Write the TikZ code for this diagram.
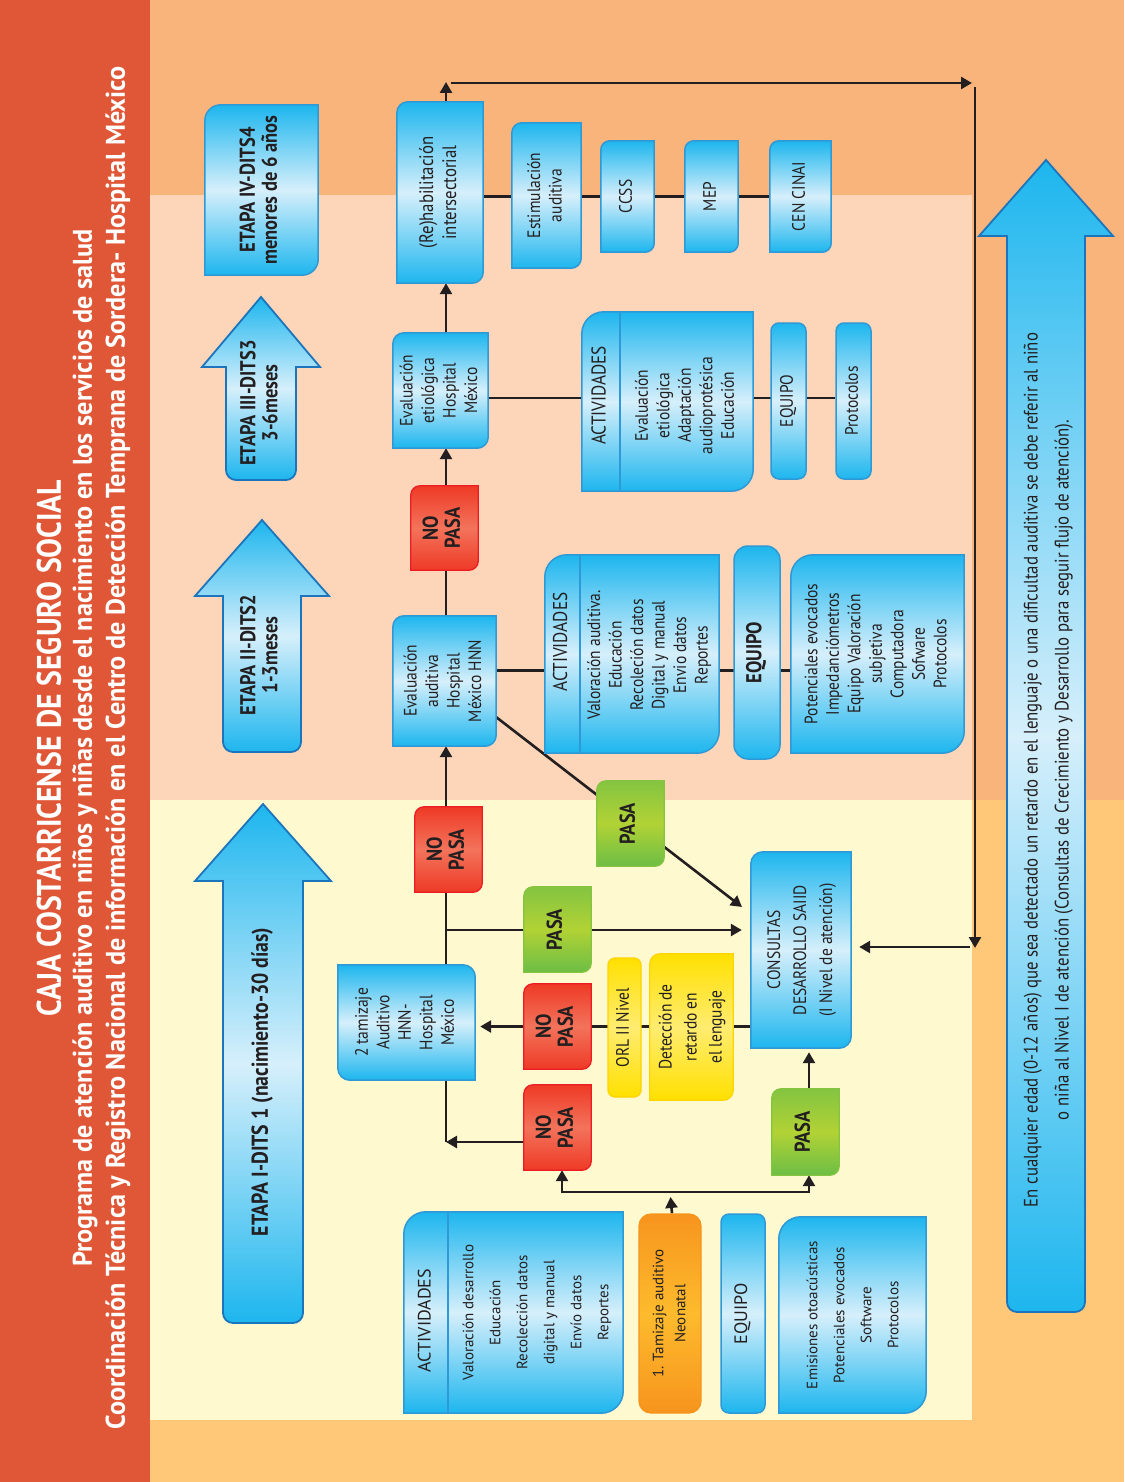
\documentclass[tikz,border=0pt]{standalone}
\usepackage{graphicx}
\usepackage{fontspec}
\setmainfont{PT Sans}[FakeStretch=0.86]
\newfontfamily\widefont{PT Sans}
\newfontfamily\headfont{PT Sans}[FakeStretch=0.875]
\newfontfamily\subfont{PT Sans}[FakeStretch=0.97]
\usetikzlibrary{arrows.meta,calc,positioning}

\definecolor{ink}{HTML}{231F20}
\definecolor{redbg}{HTML}{DF5737}
\definecolor{orangebg}{HTML}{F9B47B}
\definecolor{peachbg}{HTML}{FDD5B9}
\definecolor{ambbg}{HTML}{FFC879}
\definecolor{creambg}{HTML}{FFF9CF}
\definecolor{bluetop}{HTML}{1DB6EE}
\definecolor{bluemid}{HTML}{D6EFFB}
\definecolor{blueline}{HTML}{2E99D6}
\definecolor{bluedark}{HTML}{1C75BC}
\definecolor{redtop}{HTML}{EE3A26}
\definecolor{redmid}{HTML}{F3735B}
\definecolor{redline}{HTML}{ED1C24}
\definecolor{greentop}{HTML}{84C441}
\definecolor{greenmid}{HTML}{B2D235}
\definecolor{greenbot}{HTML}{6CBE45}
\definecolor{yelltop}{HTML}{FFE000}
\definecolor{yellmid}{HTML}{FFEC70}
\definecolor{yellline}{HTML}{FFD400}
\definecolor{orgtop}{HTML}{F7941D}
\definecolor{orgmid}{HTML}{FDBB2D}

\pgfdeclarelayer{bg}
\pgfdeclarelayer{lines}
\pgfdeclarelayer{frames}
\pgfsetlayers{bg,lines,frames,main}

\newcommand{\rt}[1]{\rotatebox{90}{\begin{tabular}{@{}c@{}}#1\end{tabular}}}
% frame with top left and bottom right corners rounded
\newcommand{\frameTB}[3]{%
  \begin{pgfonlayer}{frames}
  \path[#3] ($(#1.north west)+(0,#2)$) arc[start angle=180,end angle=90,radius=#2pt]
    -- (#1.north east) -- ($(#1.south east)+(0,-#2)$) arc[start angle=0,end angle=-90,radius=#2pt]
    -- (#1.south west) -- cycle;
  \end{pgfonlayer}}
% frame with top right and bottom left corners rounded
\newcommand{\frameRL}[3]{%
  \begin{pgfonlayer}{frames}
  \path[#3] (#1.north west) -- ($(#1.north east)+(-#2,0)$) arc[start angle=90,end angle=0,radius=#2pt]
    -- (#1.south east) -- ($(#1.south west)+(#2,0)$) arc[start angle=-90,end angle=-180,radius=#2pt]
    -- cycle;
  \end{pgfonlayer}}
\newcommand{\divider}[2]{%
  \begin{pgfonlayer}{frames}
  \draw[blueline,line width=1.5pt] ($(#1.north west)+(#2,0)$) -- ($(#1.south west)+(#2,0)$);
  \end{pgfonlayer}}
% cx, tip, base of head, half head, half shaft, bottom
\newcommand{\blockarrow}[6]{%
  \begin{pgfonlayer}{frames}
  \path[arrowfill] (#1,#2) -- (#1+#4,#3) -- (#1+#5,#3) -- (#1+#5,#6-10)
    arc[start angle=0,end angle=-90,radius=10pt] -- (#1-#5+10,#6)
    arc[start angle=-90,end angle=-180,radius=10pt] -- (#1-#5,#3) -- (#1-#4,#3) -- cycle;
  \end{pgfonlayer}}

\tikzset{
  box/.style={inner sep=0pt, text=ink, font=\fontsize{18}{21.5}\selectfont},
  bold/.style={box, font=\bfseries\fontsize{21.5}{22}\selectfont},
  wide/.style={box, font=\widefont\fontsize{15}{27}\selectfont},
  title/.style={inner sep=0pt, text=white},
  bluebox/.style={draw=blueline, line width=1.5pt, top color=bluetop, bottom color=bluetop, middle color=bluemid},
  redbox/.style={draw=redline, line width=1.3pt, top color=redtop, bottom color=redtop, middle color=redmid},
  greenbox/.style={draw=greentop, line width=1.3pt, top color=greentop, bottom color=greenbot, middle color=greenmid},
  yellbox/.style={draw=yellline, line width=1.3pt, top color=yelltop, bottom color=yelltop, middle color=yellmid},
  arrowfill/.style={draw=bluedark, line width=1.8pt, top color=bluetop, bottom color=bluetop, middle color=bluemid},
  pill/.style={bluebox, rounded corners=8pt},
  conn/.style={draw=ink, line width=2.6pt},
  arr/.style={conn, -{Triangle[length=11pt,width=12pt]}},
}

\begin{document}
\begin{tikzpicture}[x=1pt,y=-1pt]
  \useasboundingbox (0,0) rectangle (1124,1482);

  % background bands
  \begin{pgfonlayer}{bg}
    \fill[redbg] (0,0) rectangle (150,1482);
    \fill[orangebg] (150,0) rectangle (1124,800);
    \fill[peachbg] (150,195) rectangle (972,800);
    \fill[ambbg] (150,800) rectangle (1124,1482);
    \fill[creambg] (150,800) rectangle (972,1420);
  \end{pgfonlayer}

  % titles
  \node[title, font=\headfont\bfseries\fontsize{34}{40}\selectfont] (t1) at (49,748) {\rotatebox{90}{CAJA COSTARRICENSE DE SEGURO SOCIAL}};
  \node[title, font=\subfont\bfseries\fontsize{27}{32}\selectfont] (t2) at (85,748) {\rotatebox{90}{Programa de atención auditivo en niños y niñas desde el nacimiento en los servicios de salud}};
  \node[title, font=\subfont\bfseries\fontsize{27}{32}\selectfont] (t3) at (118,748) {\rotatebox{90}{Coordinación Técnica y Registro Nacional de información en el Centro de Detección Temprana de Sordera- Hospital México}};

  % stages
  \node[bold, minimum width=113pt, minimum height=170pt] (e4) at (261.5,190) {\rt{ETAPA IV-DITS4\\menores de 6 años}};
  \frameTB{e4}{16}{bluebox}
  \blockarrow{261}{297}{367}{59}{35}{480}
  \node[bold] (e3) at (262,403) {\rt{ETAPA III-DITS3\\3-6meses}};
  \blockarrow{262}{520}{596}{67}{39}{752}
  \node[bold] (e2) at (262,655) {\rt{ETAPA II-DITS2\\1-3meses}};
  \blockarrow{263}{804}{881}{68}{40}{1323}
  \node[bold, font=\bfseries\fontsize{23}{24}\selectfont] (e1) at (263,1082) {\rt{ETAPA I-DITS 1 (nacimiento-30 días)}};
  \blockarrow{1046}{160}{236}{67}{39}{1312}
  \node[box, font=\fontsize{19.5}{31}\selectfont] (note) at (1047,770) {\rt{En cualquier edad (0-12 años) que sea detectado un retardo en el lenguaje o una dificultad auditiva se debe referir al niño\\o niña al Nivel I de atención (Consultas de Crecimiento y Desarrollo para seguir flujo de atención).}};

  % upper row
  \node[box, font=\fontsize{19.5}{23}\selectfont, minimum width=86pt, minimum height=181pt] (rehab) at (440,192.5) {\rt{(Re)habilitación\\intersectorial}};
  \frameTB{rehab}{11}{bluebox}
  \node[box, minimum width=69pt, minimum height=145pt] (estim) at (546.5,195.5) {\rt{Estimulación\\auditiva}};
  \frameTB{estim}{10}{bluebox}
  \node[box, minimum width=53pt, minimum height=111pt] (ccss) at (627.5,196.5) {\rt{CCSS}};
  \frameTB{ccss}{9}{bluebox}
  \node[box, minimum width=53pt, minimum height=111pt] (mep) at (711.5,196.5) {\rt{MEP}};
  \frameTB{mep}{9}{bluebox}
  \node[box, minimum width=61pt, minimum height=111pt] (cenc) at (800.5,196.5) {\rt{CEN CINAI}};
  \frameTB{cenc}{9}{bluebox}

  % etiology row
  \node[box, minimum width=95pt, minimum height=115pt] (etio) at (440.5,390.5) {\rt{Evaluación\\etiológica\\Hospital\\México}};
  \frameTB{etio}{11}{bluebox}
  \node[minimum width=171pt, minimum height=179pt, inner sep=0pt] (act1) at (667.5,401.5) {};
  \frameTB{act1}{22}{bluebox}
  \divider{act1}{38}
  \node[box, font=\fontsize{20}{21}\selectfont] (act1h) at ($(act1.center)+(-66,-6)$) {\rt{ACTIVIDADES}};
  \node[box] (act1b) at ($(act1.center)+(19,4)$) {\rt{Evaluación\\etiológica\\Adaptación\\audioprotésica\\Educación}};
  \node[box, pill, minimum width=35pt, minimum height=156pt] (eq1) at (788.5,401) {\rt{EQUIPO}};
  \node[box, pill, minimum width=35pt, minimum height=156pt] (prot) at (853.5,401) {\rt{Protocolos}};
  \node[bold, minimum width=67pt, minimum height=84pt] (np1) at (444.5,528) {\rt{NO\\PASA}};
  \frameTB{np1}{9}{redbox}

  % hearing test row
  \node[box, minimum width=103pt, minimum height=130pt] (hnn) at (444.5,681) {\rt{Evaluación\\auditiva\\Hospital\\México HNN}};
  \frameTB{hnn}{11}{bluebox}
  \node[minimum width=174pt, minimum height=198pt, inner sep=0pt] (act2) at (632,654) {};
  \frameTB{act2}{22}{bluebox}
  \divider{act2}{35}
  \node[box, font=\fontsize{20}{21}\selectfont] (act2h) at ($(act2.center)+(-69,-12)$) {\rt{ACTIVIDADES}};
  \node[box] (act2b) at ($(act2.center)+(17.5,1)$) {\rt{Valoración auditiva.\\Educación\\Recoleción datos\\Digital y manual\\Envio datos\\Reportes}};
  \node[bold, pill, minimum width=46pt, minimum height=213pt, rounded corners=14pt] (eq2) at (757,652.5) {\rt{EQUIPO}};
  \node[box, minimum width=173pt, minimum height=198pt] (pot) at (877.5,654) {\rt{Potenciales evocados\\Impedanciómetros\\Equipo Valoración\\subjetiva\\Computadora\\Sofware\\Protocolos}};
  \frameTB{pot}{22}{bluebox}

  % first level
  \node[bold, minimum width=67pt, minimum height=85pt] (pasaD) at (630.5,823.5) {\rt{PASA}};
  \frameTB{pasaD}{9}{greenbox}
  \node[bold, minimum width=67pt, minimum height=85pt] (np2) at (448.5,849.5) {\rt{NO\\PASA}};
  \frameTB{np2}{9}{redbox}
  \node[bold, minimum width=67pt, minimum height=85pt] (pasaM) at (557.5,929.5) {\rt{PASA}};
  \frameTB{pasaM}{9}{greenbox}
  \node[box, font=\fontsize{18}{26}\selectfont, minimum width=100pt, minimum height=196pt] (cons) at (801,950) {\rt{CONSULTAS\\DESARROLLO SAIID\\(I Nivel de atención)}};
  \frameTB{cons}{12}{bluebox}
  \node[box, minimum width=137pt, minimum height=115pt] (tam2) at (406.5,1022.5) {\rt{2 tamizaje\\Auditivo\\HNN-\\Hospital\\México}};
  \frameRL{tam2}{12}{bluebox}
  \node[bold, minimum width=67pt, minimum height=85pt] (np3) at (557.5,1026.5) {\rt{NO\\PASA}};
  \frameTB{np3}{9}{redbox}
  \node[box, minimum width=33pt, minimum height=139pt, yellbox, rounded corners=7pt] (orl) at (624.5,1027.5) {\rt{ORL II Nivel}};
  \node[box, font=\fontsize{18}{25}\selectfont, minimum width=83pt, minimum height=146pt] (detec) at (691.5,1027) {\rt{Detección de\\retardo en\\el lenguaje}};
  \frameTB{detec}{10}{yellbox}
  \node[bold, minimum width=67pt, minimum height=85pt] (np4) at (557.5,1127.5) {\rt{NO\\PASA}};
  \frameTB{np4}{9}{redbox}
  \node[bold, minimum width=67pt, minimum height=86pt] (pasaL) at (805.5,1132) {\rt{PASA}};
  \frameTB{pasaL}{9}{greenbox}

  % newborn screening
  \node[minimum width=219pt, minimum height=201pt, inner sep=0pt] (act3) at (513.5,1312.5) {};
  \frameTB{act3}{22}{bluebox}
  \divider{act3}{44}
  \node[wide, font=\widefont\fontsize{18}{21}\selectfont] (act3h) at ($(act3.center)+(-87,8)$) {\rt{ACTIVIDADES}};
  \node[wide] (act3b) at ($(act3.center)+(22,0)$) {\rt{Valoración desarrollo\\Educación\\Recolección datos\\digital y manual\\Envío datos\\Reportes}};
  \node[wide, font=\widefont\fontsize{15}{22}\selectfont, draw=orgtop, line width=1.3pt, top color=orgtop, bottom color=orgtop, middle color=orgmid, rounded corners=12pt, minimum width=62pt, minimum height=199pt] (tam1) at (670,1313.5) {\rt{1. Tamizaje auditivo\\Neonatal}};
  \node[wide, font=\widefont\fontsize{18}{21}\selectfont, pill, minimum width=44pt, minimum height=199pt] (eq3) at (743,1313.5) {\rt{EQUIPO}};
  \node[wide, minimum width=147pt, minimum height=196pt] (emis) at (852.5,1315) {\rt{Emisiones otoacústicas\\Potenciales evocados\\Software\\Protocolos}};
  \frameTB{emis}{22}{bluebox}

  % connectors
  \coordinate (col) at (446,0);
  \coordinate (topL) at (446,82);
  \coordinate (topA) at (451,83);
  \coordinate (topB) at (972,83);
  \coordinate (rTop) at (975,87);
  \coordinate (rBot) at (975,948);
  \coordinate (rBack) at (970,947);
  \coordinate (branch) at (446,930);
  \coordinate (corner) at (446,1142);
  \coordinate (dend) at (742,907);
  \coordinate (forkL) at (562,1192);
  \coordinate (forkR) at (809,1192);
  \coordinate (hnnR) at ($(hnn.north east)!0.42!(hnn.south east)$);
  \coordinate (hnnD) at ($(hnn.north east)!0.777!(hnn.south east)$);
  \coordinate (etioR) at ($(etio.north east)!0.565!(etio.south east)$);
  \begin{pgfonlayer}{lines}
    \draw[arr] (rehab.north -| col) -- (topL);
    \draw[arr] (topA) -- (topB);
    \draw[arr] (rTop) -- (rBot);
    \draw[arr, shorten >=8pt] (rBack) -- (cons.east |- rBack);
    \draw[conn] (rehab.east |- cenc.west) -- (cenc.west);
    \draw[arr] (etio.north -| col) -- (rehab.south -| col);
    \draw[conn] (etioR) -- (etioR -| prot.west);
    \draw[arr] (np1.north -| col) -- (etio.south -| col);
    \draw[conn] (hnn.north -| col) -- (np1.south -| col);
    \draw[conn] (hnnR) -- (hnnR -| pot.west);
    \draw[arr] (hnnD) -- (dend);
    \draw[arr] (np2.north -| col) -- (hnn.south -| col);
    \draw[conn] (corner) -- (np2.south -| col);
    \draw[arr] (np4.west |- corner) -- (corner);
    \draw[arr, shorten >=9pt] (branch) -- (cons.west |- branch);
    \draw[arr, shorten >=5pt] (cons.west |- np3) -- (tam2.east |- np3);
    \draw[arr, shorten >=4pt] (pasaL.north -| forkR) -- (cons.south -| forkR);
    \draw[arr, shorten >=5pt] (tam1.north -| forkL) ++(110,0) -- (forkL -| tam1.north);
    \draw[conn, {Triangle[length=11pt,width=12pt]}-{Triangle[length=11pt,width=12pt]}] (np4.south -| forkL) -- (forkL) -- (forkR) -- (pasaL.south -| forkR);
  \end{pgfonlayer}
\end{tikzpicture}
\end{document}
